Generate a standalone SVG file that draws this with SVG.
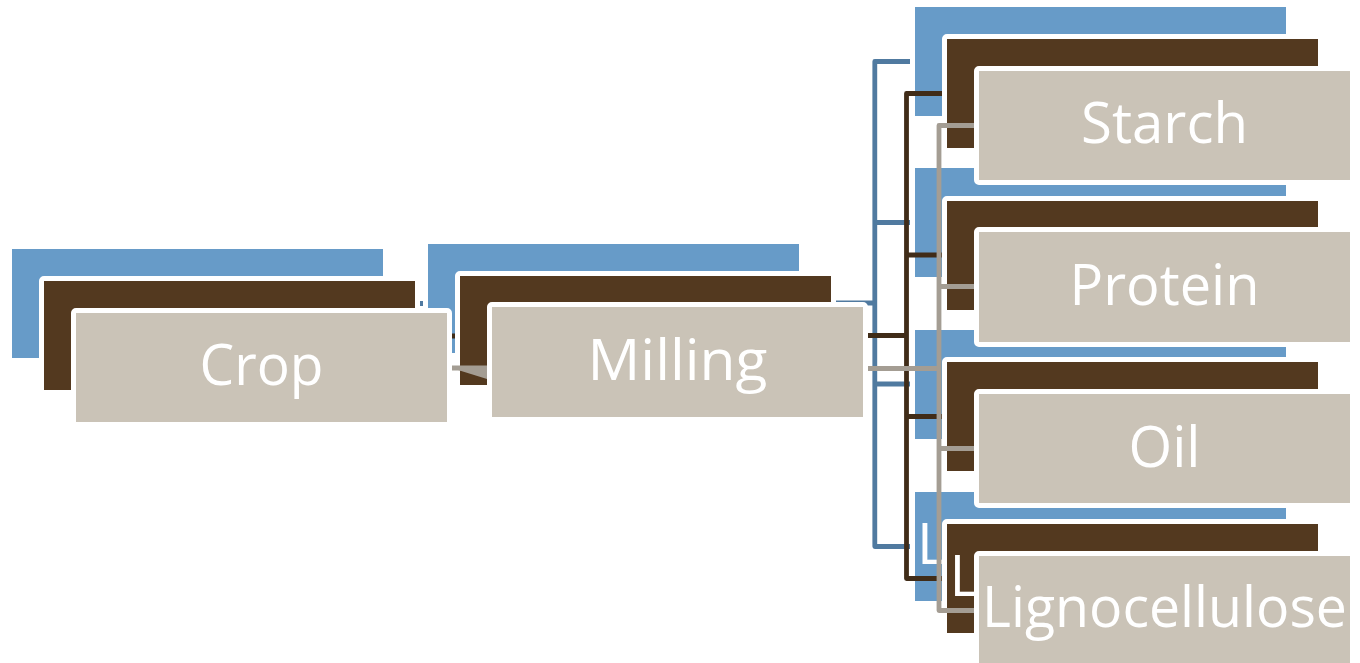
<svg xmlns="http://www.w3.org/2000/svg" width="1360" height="663" viewBox="0 0 1360 663">
<style>
.bx{stroke:#ffffff;stroke-width:10;paint-order:stroke;stroke-linejoin:round}
.b1{fill:#679BC8}
.b2{fill:#53391F}
.b3{fill:#CAC3B7}
.c{fill:none;stroke-width:4.8;stroke-linejoin:round}
.c1{stroke:#507AA0}
.c2{stroke:#402C18}
.c3{stroke:#A49D93}
.t{font-family:"Open Sans","Noto Sans",sans-serif;font-size:57px;fill:#ffffff;text-anchor:middle}
.ts{font-family:"Open Sans","Noto Sans",sans-serif;font-size:57px;fill:#ffffff}
</style>
<rect width="1360" height="663" fill="#ffffff"/>
<!-- back layer 1 (blue) -->
<g id="connectors-layer1" class="c c1">
<path d="M383,303.5 H428"/>
<path d="M799,303 H874.8"/>
<path d="M915,61.5 H874.8 V546.5 H915"/>
<path d="M874.8,222.5 H915"/>
<path d="M874.8,384 H915"/>
</g>
<g id="layer1-boxes">
<rect class="bx b1" x="12" y="249" width="371" height="109"/>
<rect class="bx b1" x="428" y="244" width="371" height="109"/>
<rect class="bx b1" x="915" y="7" width="371" height="109"/>
<rect class="bx b1" x="915" y="168" width="371" height="109"/>
<rect class="bx b1" x="915" y="330" width="371" height="109"/>
<rect class="bx b1" x="915" y="492" width="371" height="109"/>
<text class="ts" x="917" y="563.5">L</text>
</g>
<!-- back layer 2 (brown) -->
<g id="connectors-layer2" class="c c2">
<path d="M415,336 H460"/>
<path d="M831,335.5 H906.5"/>
<path d="M947,93.5 H906.5 V578.5 H947"/>
<path d="M906.5,255 H947"/>
<path d="M906.5,416.5 H947"/>
</g>
<g id="layer2-boxes">
<rect class="bx b2" x="44" y="281" width="371" height="109"/>
<rect class="bx b2" x="460" y="276" width="371" height="109"/>
<rect class="bx b2" x="947" y="39" width="371" height="109"/>
<rect class="bx b2" x="947" y="201" width="371" height="109"/>
<rect class="bx b2" x="947" y="362" width="371" height="109"/>
<rect class="bx b2" x="947" y="524" width="371" height="109"/>
<text class="ts" x="949.4" y="596">L</text>
</g>
<!-- front layer -->
<g id="connectors" class="c c3">
<path d="M447,368 H492"/>
<polygon points="458,370 490,370 490,379 487,379" fill="#A49D93" stroke="none"/>
<path d="M863,368.5 H939"/>
<path d="M979,125.5 H939 V610.5 H979"/>
<path d="M939,286.5 H979"/>
<path d="M939,448.5 H979"/>
</g>
<g id="node-crop">
<rect class="bx b3" x="76" y="313" width="371" height="109"/>
<text class="t" x="261.5" y="385" textLength="124" lengthAdjust="spacingAndGlyphs">Crop</text>
</g>
<g id="node-milling">
<rect class="bx b3" x="492" y="307" width="371" height="110"/>
<text class="t" x="677.5" y="380" textLength="180" lengthAdjust="spacingAndGlyphs">Milling</text>
</g>
<g id="node-starch">
<rect class="bx b3" x="979" y="71" width="371" height="109"/>
<text class="t" x="1164.5" y="142.5" textLength="167" lengthAdjust="spacingAndGlyphs">Starch</text>
</g>
<g id="node-protein">
<rect class="bx b3" x="979" y="232" width="371" height="110"/>
<text class="t" x="1164.5" y="305" textLength="190" lengthAdjust="spacingAndGlyphs">Protein</text>
</g>
<g id="node-oil">
<rect class="bx b3" x="979" y="394" width="371" height="109"/>
<text class="t" x="1164.5" y="467" textLength="72" lengthAdjust="spacingAndGlyphs">Oil</text>
</g>
<g id="node-lignocellulose">
<rect class="bx b3" x="979" y="556" width="371" height="109"/>
<text class="t" x="1164.5" y="627" textLength="365" lengthAdjust="spacingAndGlyphs">Lignocellulose</text>
</g>
</svg>
